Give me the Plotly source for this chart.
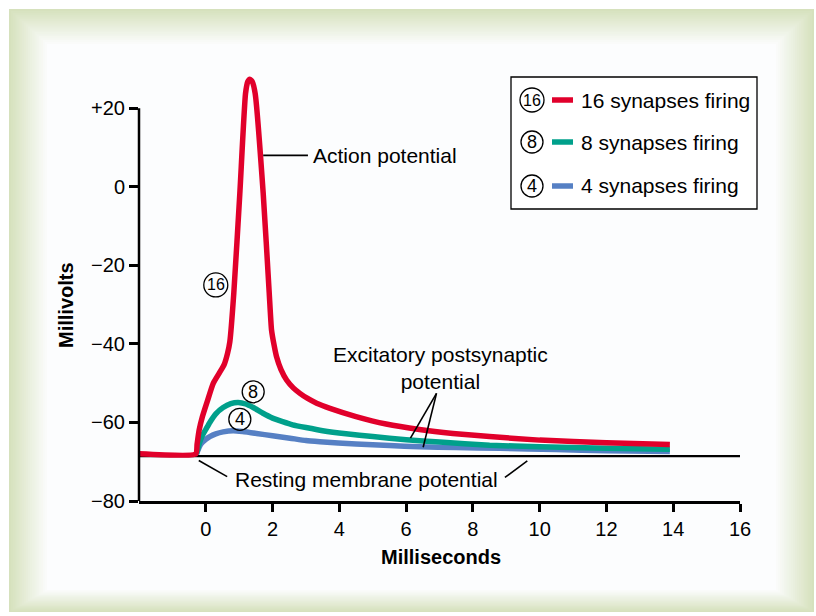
import plotly.graph_objects as go

# ---------------- data ----------------
red_ms = [-2.0, -0.30, -0.26, -0.20, -0.10, 0.05, 0.22, 0.40, 0.55, 0.65, 0.72, 0.84, 1.02, 1.19,
          1.26, 1.32, 1.39, 1.48, 1.72, 1.90, 1.97, 2.05, 2.12, 2.25, 2.42, 2.62, 2.82, 3.05, 3.32,
          3.72, 4.5, 5.4, 6.4, 7.4, 8.5, 10.0, 12.0, 13.9]
red_mv = [-68.0, -68.0, -65.5, -62.0, -58.5, -54.5, -50.1, -47.5, -45.3, -42.5, -39.5, -27.0, -1.7, 23.7,
          26.8, 27.4, 26.8, 23.7, -1.7, -27.0, -36.5, -40.5, -43.3, -46.5, -49.2, -51.2, -52.6, -53.9, -55.1,
          -56.4, -58.5, -60.4, -61.8, -62.8, -63.6, -64.5, -65.2, -65.6]

teal_ms = [-0.28, -0.20, -0.10, 0.0, 0.12, 0.30, 0.52, 0.75, 0.97, 1.20, 1.42, 1.70, 2.0, 2.3, 2.6,
           3.0, 3.5, 4.2, 5.0, 6.0, 7.0, 8.5, 10.0, 12.0, 13.9]
teal_mv = [-68.0, -65.5, -63.3, -61.8, -60.0, -57.8, -56.2, -55.2, -54.9, -55.3, -56.2, -57.6, -58.9, -59.8, -60.6,
           -61.3, -62.1, -62.9, -63.6, -64.4, -65.0, -65.8, -66.2, -66.6, -66.8]

blue_ms = [-0.28, -0.15, 0.0, 0.12, 0.30, 0.52, 0.82, 1.10, 1.52, 2.0, 2.52, 3.0, 3.42, 4.5, 5.5,
           6.4, 7.5, 8.8, 10.5, 12.0, 13.9]
blue_mv = [-68.0, -65.5, -64.3, -63.6, -62.9, -62.4, -62.1, -62.3, -62.8, -63.4, -64.0, -64.6, -64.9, -65.5, -65.9,
           -66.2, -66.4, -66.6, -66.9, -67.2, -67.4]

resting_mv = -68.6
series_names = ["16 synapses firing", "8 synapses firing", "4 synapses firing"]
series_marks = ["16", "8", "4"]
series_colors = ["#e1002b", "#00a08b", "#5680c4"]

x_ticks = [0, 2, 4, 6, 8, 10, 12, 14, 16]
y_ticks = [-80, -60, -40, -20, 0, 20]
y_ticktext = ["\u221280", "\u221260", "\u221240", "\u221220", "0", "+20"]

X_MIN, X_MAX = -2, 16
Y_MIN, Y_MAX = -80, 31
AXIS_TOP = 20

# ---------------- layout helpers (pixel -> paper) ----------------
W, H = 816, 616
L, R, T, B = 139, 76, 65, 115
pw, ph = W - L - R, H - T - B
FONT = "Liberation Sans, Arial, Helvetica, sans-serif"


def pxx(x):
    return (x - L) / pw


def pyy(y):
    return (H - B - y) / ph


def yval_paper(v):
    return (v - Y_MIN) / (Y_MAX - Y_MIN)


fig = go.Figure()

# traces: blue, teal, red (red on top)
for ms, mv, i in [(blue_ms, blue_mv, 2), (teal_ms, teal_mv, 1), (red_ms, red_mv, 0)]:
    fig.add_trace(go.Scatter(
        x=ms, y=mv, mode="lines", name=series_names[i], showlegend=False,
        line=dict(color=series_colors[i], width=5.5, shape="spline", smoothing=0.5),
        hoverinfo="skip"))

shapes = []

# background frame with soft green gradient
green = (214, 225, 189)
white = (252, 253, 254)
N = 18
for k in range(N + 1):
    t = k / N
    c = tuple(round(green[j] + (white[j] - green[j]) * t) for j in range(3))
    x0, y0 = 9 + 38 * t, 9 + 35 * t
    x1, y1 = 814 - 38 * t, 612 - 22 * t
    shapes.append(dict(type="rect", xref="paper", yref="paper", layer="below",
                       x0=pxx(x0), x1=pxx(x1), y0=pyy(y1), y1=pyy(y0),
                       fillcolor="rgb(%d,%d,%d)" % c, line=dict(width=0)))

# resting membrane potential line
shapes.append(dict(type="line", xref="x", yref="y", layer="below",
                   x0=X_MIN, x1=X_MAX, y0=resting_mv, y1=resting_mv,
                   line=dict(color="black", width=2.2)))

# y-axis line (only up to +20)
shapes.append(dict(type="line", xref="paper", yref="paper",
                   x0=0, x1=0, y0=0, y1=yval_paper(AXIS_TOP),
                   line=dict(color="black", width=2.5)))

# pointer lines
pointer = dict(color="black", width=1.6)
shapes += [
    dict(type="line", xref="x", yref="y", x0=1.72, x1=3.06, y0=8.0, y1=8.0, line=pointer),
    dict(type="line", xref="x", yref="y", x0=6.91, y0=-52.6, x1=6.13, y1=-64.0, line=pointer),
    dict(type="line", xref="x", yref="y", x0=6.91, y0=-52.6, x1=6.51, y1=-66.3, line=pointer),
    dict(type="line", xref="x", yref="y", x0=-0.21, y0=-69.7, x1=0.64, y1=-73.8, line=pointer),
    dict(type="line", xref="x", yref="y", x0=8.96, y0=-74.0, x1=9.63, y1=-69.8, line=pointer),
]

annotations = []


def circled(label, xa, ya, xref, yref, size, d=23):
    shapes.append(dict(type="circle", xref=xref, yref=yref, xsizemode="pixel", ysizemode="pixel",
                       xanchor=xa, yanchor=ya, x0=-d / 2, x1=d / 2, y0=-d / 2, y1=d / 2,
                       line=dict(color="black", width=1.3), fillcolor="rgba(0,0,0,0)"))
    annotations.append(dict(x=xa, y=ya, xref=xref, yref=yref, text=label, showarrow=False,
                            xanchor="center", yanchor="middle",
                            font=dict(family=FONT, size=size, color="black")))


# curve labels
circled(series_marks[0], 0.30, -25.0, "x", "y", 16, 24)
circled(series_marks[1], 1.42, -52.2, "x", "y", 18, 22)
circled(series_marks[2], 1.02, -59.2, "x", "y", 18, 22)

txt_font = dict(family=FONT, size=21, color="black")
annotations += [
    dict(x=3.15, y=8.0, xref="x", yref="y", text="Action potential", showarrow=False,
         xanchor="left", yanchor="middle", font=txt_font),
    dict(x=7.04, y=-46.2, xref="x", yref="y", text="Excitatory postsynaptic<br>potential",
         showarrow=False, xanchor="center", yanchor="middle", align="center", font=txt_font),
    dict(x=4.81, y=-74.4, xref="x", yref="y", text="Resting membrane potential", showarrow=False,
         xanchor="center", yanchor="middle", font=txt_font),
    dict(x=pxx(441), y=pyy(557), xref="paper", yref="paper", text="<b>Milliseconds</b>",
         showarrow=False, xanchor="center", yanchor="middle",
         font=dict(family=FONT, size=20, color="black")),
    dict(x=pxx(66), y=pyy(305), xref="paper", yref="paper", text="<b>Millivolts</b>",
         showarrow=False, xanchor="center", yanchor="middle", textangle=-90,
         font=dict(family=FONT, size=20, color="black")),
]

# legend box (drawn manually)
shapes.append(dict(type="rect", xref="paper", yref="paper",
                   x0=pxx(511), x1=pxx(757), y0=pyy(209), y1=pyy(77),
                   line=dict(color="black", width=1.3), fillcolor="white"))
row_y = [100, 142, 186]
for i in range(3):
    yc = pyy(row_y[i])
    circled(series_marks[i], pxx(532), yc, "paper", "paper", 16 if i == 0 else 18, 24 if i == 0 else 22)
    shapes.append(dict(type="line", xref="paper", yref="paper",
                       x0=pxx(552), x1=pxx(573), y0=yc, y1=yc,
                       line=dict(color=series_colors[i], width=5.5)))
    annotations.append(dict(x=pxx(579), y=yc, xref="paper", yref="paper", text=series_names[i],
                            showarrow=False, xanchor="left", yanchor="middle", font=txt_font))

fig.update_layout(
    width=W, height=H,
    margin=dict(l=L, r=R, t=T, b=B, pad=0),
    paper_bgcolor="white", plot_bgcolor="rgba(0,0,0,0)",
    shapes=shapes, annotations=annotations, showlegend=False,
    xaxis=dict(range=[X_MIN, X_MAX], showline=True, linecolor="black", linewidth=2.5,
               ticks="outside", ticklen=8, tickwidth=2.5, tickcolor="black",
               tickvals=x_ticks, showgrid=False, zeroline=False,
               tickfont=dict(family=FONT, size=20, color="black")),
    yaxis=dict(range=[Y_MIN, Y_MAX], showline=False,
               ticks="outside", ticklen=9, tickwidth=2.5, tickcolor="black",
               tickvals=y_ticks, ticktext=y_ticktext, showgrid=False, zeroline=False,
               tickfont=dict(family=FONT, size=20, color="black")),
)

fig.write_html("out.html", config={"displayModeBar": False},
               post_script="document.body.style.margin='0';document.body.style.padding='0';")
